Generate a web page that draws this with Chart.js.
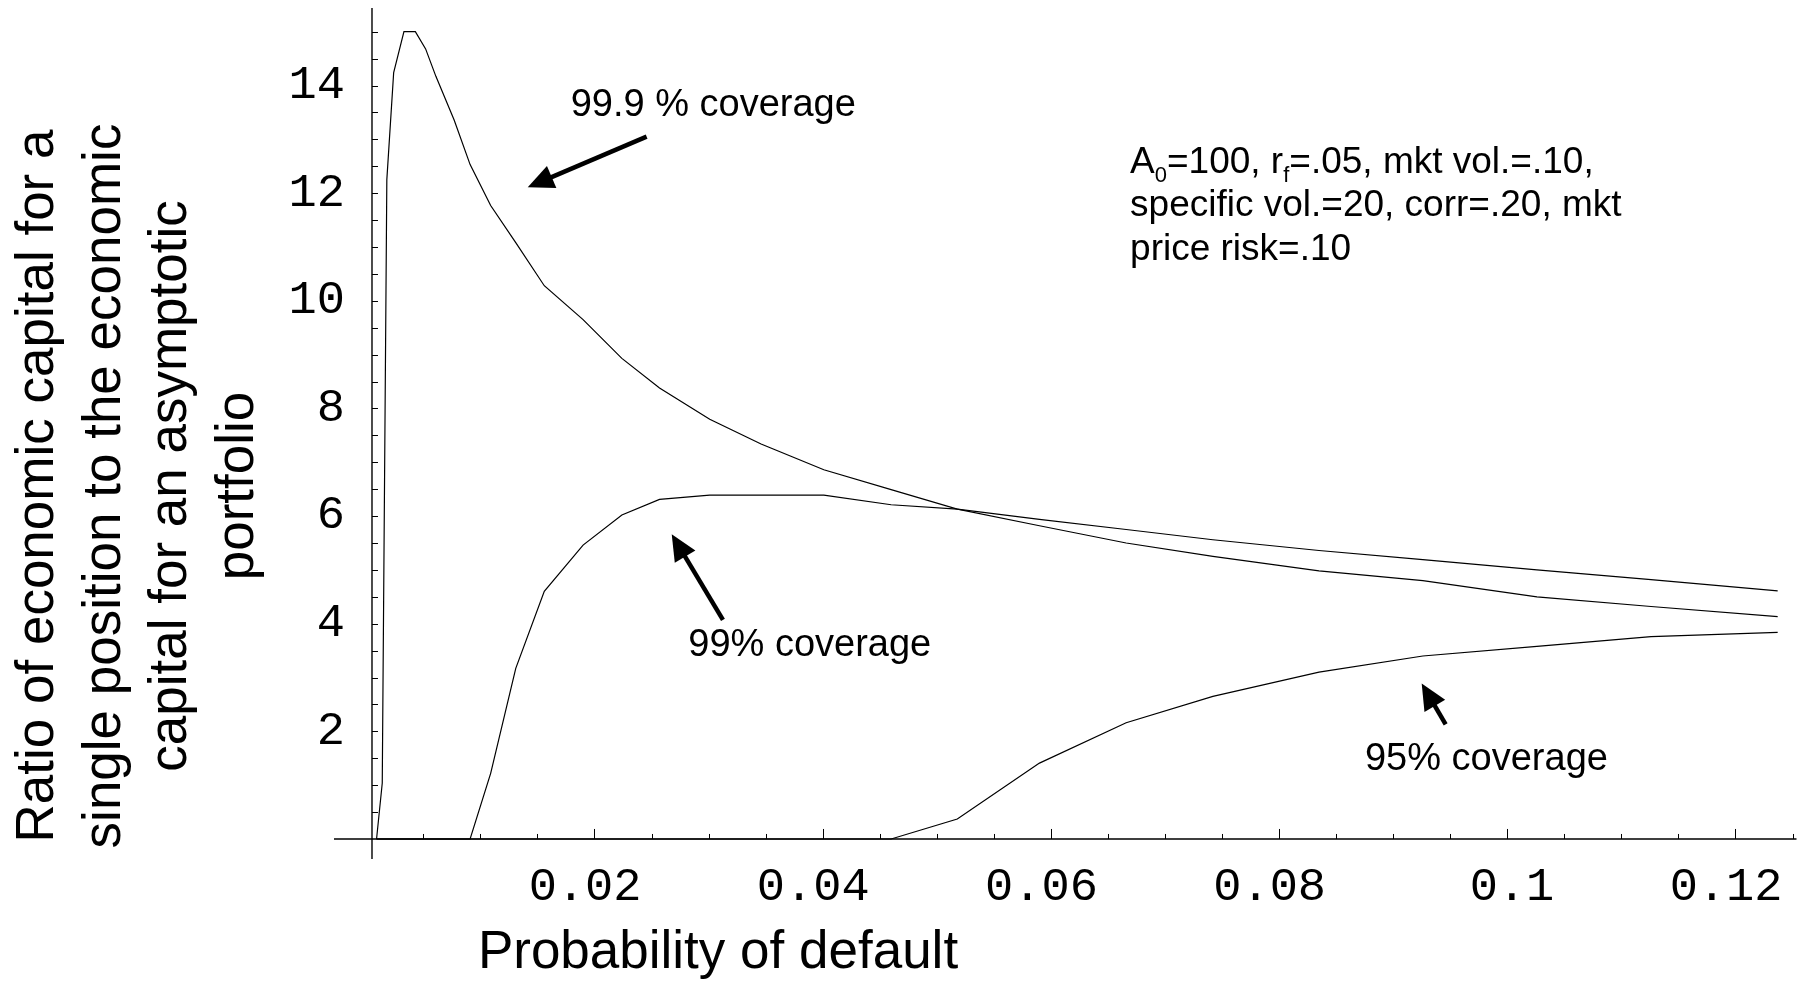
<!DOCTYPE html>
<html>
<head>
<meta charset="utf-8">
<title>Economic capital ratio vs probability of default</title>
<script src="https://cdn.jsdelivr.net/npm/chart.js@4/dist/chart.umd.min.js"></script>
<style>
  html, body { margin: 0; padding: 0; background: #fff; }
  canvas { display: block; }
</style>
</head>
<body>
<canvas id="chart" width="1812" height="985"></canvas>
<script>
// Probability-of-default grid shared by the three coverage curves
const pd = [0.0009, 0.0014, 0.0018, 0.0024, 0.0033, 0.0043, 0.0052, 0.0061, 0.0077, 0.0091,
            0.0109, 0.0131, 0.0156, 0.0190, 0.0224, 0.0257, 0.0301, 0.0346, 0.0401, 0.0460,
            0.0518, 0.0590, 0.0666, 0.0742, 0.0835, 0.0926, 0.1026, 0.1126, 0.1237];

// Ratio of single-position capital to asymptotic-portfolio capital
const ratio999 = [0, 1.04, 12.25, 14.24, 15.0, 15.0, 14.68, 14.17, 13.36, 12.53,
                  11.77, 11.08, 10.28, 9.65, 8.93, 8.38, 7.80, 7.34, 6.86, 6.49,
                  6.13, 5.82, 5.50, 5.25, 4.98, 4.80, 4.50, 4.32, 4.13];
const ratio99  = [0, 0, 0, 0, 0, 0, 0, 0, 0, 0,
                  1.22, 3.17, 4.60, 5.46, 6.02, 6.31, 6.39, 6.39, 6.39, 6.21,
                  6.13, 5.94, 5.75, 5.56, 5.36, 5.19, 5.00, 4.82, 4.61];
const ratio95  = [0, 0, 0, 0, 0, 0, 0, 0, 0, 0,
                  0, 0, 0, 0, 0, 0, 0, 0, 0, 0,
                  0.37, 1.41, 2.16, 2.65, 3.10, 3.40, 3.58, 3.76, 3.84];

// Labelled ticks
const xTickValues = [0.02, 0.04, 0.06, 0.08, 0.1, 0.12];
const xTickLabels = ['0.02', '0.04', '0.06', '0.08', '0.1', '0.12'];
const yTickValues = [2, 4, 6, 8, 10, 12, 14];
const yTickLabels = ['2', '4', '6', '8', '10', '12', '14'];

// Text
const xTitle = 'Probability of default';
const yTitleLines = ['Ratio of economic capital for a',
                     'single position to the economic',
                     'capital for an asymptotic',
                     'portfolio'];

// Where the vertical axis crosses the horizontal one (in PD units)
const yAxisAt = 0.0005;

// Callout texts and arrows, anchored in data coordinates
const callouts = [
  { text: '99.9 % coverage', at: [0.01791, 13.44] },
  { text: '99% coverage',    at: [0.02822, 3.40] },
  { text: '95% coverage',    at: [0.08753, 1.28] }
];
const arrows = [
  { from: [0.02457, 13.05], to: [0.01415, 12.11] },
  { from: [0.03126, 4.07],  to: [0.02677, 5.66] },
  { from: [0.0946, 2.13],   to: [0.0925, 2.89] }
];

// Parameter note; each run is [text, isSubscript]
const paramAnchor = [0.06694, 12.38];
const paramLines = [
  [['A', false], ['0', true], ['=100, r', false], ['f', true], ['=.05, mkt vol.=.10,', false]],
  [['specific vol.=20, corr=.20, mkt', false]],
  [['price risk=.10', false]]
];

const SANS = '"Liberation Sans", Arial, sans-serif';
const MONO = '"Liberation Mono", "Courier New", monospace';

function curve(label, values) {
  return {
    label,
    data: pd.map((x, i) => ({ x, y: values[i] })),
    borderColor: '#000',
    borderWidth: 1.2,
    pointRadius: 0,
    fill: false,
    tension: 0
  };
}

const isMajor = v => xTickValues.some(t => Math.abs(t - v) < 1e-9);

// Axes crossing inside the plot, with inward tick marks
const crossedAxes = {
  id: 'crossedAxes',
  afterDatasetsDraw(chart) {
    const { ctx, chartArea: a, scales: { x, y } } = chart;
    const ox = x.getPixelForValue(yAxisAt);
    const oy = y.getPixelForValue(0);
    ctx.save();
    ctx.strokeStyle = '#000';
    ctx.lineWidth = 1.4;
    ctx.beginPath();
    ctx.moveTo(a.left, oy); ctx.lineTo(a.right, oy);
    ctx.moveTo(ox, a.top);  ctx.lineTo(ox, a.bottom);
    ctx.stroke();

    ctx.lineWidth = 1;
    ctx.beginPath();
    x.ticks.forEach(t => {
      if (t.value <= yAxisAt) return;
      const px = Math.round(x.getPixelForValue(t.value)) + 0.5;
      ctx.moveTo(px, oy);
      ctx.lineTo(px, oy - (isMajor(t.value) ? 10 : 5));
    });
    y.ticks.forEach(t => {
      if (t.value <= 0) return;
      const py = Math.round(y.getPixelForValue(t.value)) + 0.5;
      ctx.moveTo(ox, py);
      ctx.lineTo(ox + 6, py);
    });
    ctx.stroke();

    ctx.fillStyle = '#000';
    ctx.font = '47px ' + MONO;
    ctx.textAlign = 'right';
    ctx.textBaseline = 'alphabetic';
    xTickValues.forEach((v, i) => {
      ctx.fillText(xTickLabels[i], x.getPixelForValue(v) + 47, oy + 61);
    });
    ctx.textBaseline = 'middle';
    yTickValues.forEach((v, i) => {
      ctx.fillText(yTickLabels[i], ox - 27, y.getPixelForValue(v));
    });
    ctx.restore();
  }
};

function drawArrow(ctx, x1, y1, x2, y2) {
  const ang = Math.atan2(y2 - y1, x2 - x1);
  const headLen = 26, headHalf = 12;
  const bx = x2 - headLen * Math.cos(ang), by = y2 - headLen * Math.sin(ang);
  ctx.lineWidth = 4.5;
  ctx.beginPath();
  ctx.moveTo(x1, y1);
  ctx.lineTo(bx + 2 * Math.cos(ang), by + 2 * Math.sin(ang));
  ctx.stroke();
  ctx.beginPath();
  ctx.moveTo(x2, y2);
  ctx.lineTo(bx + headHalf * Math.sin(ang), by - headHalf * Math.cos(ang));
  ctx.lineTo(bx - headHalf * Math.sin(ang), by + headHalf * Math.cos(ang));
  ctx.closePath();
  ctx.fill();
}

// Axis titles, callouts and parameter note
const notes = {
  id: 'notes',
  afterDraw(chart) {
    const { ctx, scales: { x, y } } = chart;
    ctx.save();
    ctx.fillStyle = '#000';
    ctx.strokeStyle = '#000';

    ctx.font = '53px ' + SANS;
    ctx.textAlign = 'center';
    ctx.textBaseline = 'alphabetic';
    ctx.fillText(xTitle, 718, 968);

    ctx.save();
    ctx.translate(0, 486);
    ctx.rotate(-Math.PI / 2);
    yTitleLines.forEach((s, i) => ctx.fillText(s, 0, 53 + i * 66.7));
    ctx.restore();

    ctx.font = '38px ' + SANS;
    ctx.textAlign = 'left';
    callouts.forEach(c => {
      ctx.fillText(c.text, x.getPixelForValue(c.at[0]), y.getPixelForValue(c.at[1]));
    });

    ctx.lineCap = 'butt';
    arrows.forEach(a => {
      drawArrow(ctx,
        x.getPixelForValue(a.from[0]), y.getPixelForValue(a.from[1]),
        x.getPixelForValue(a.to[0]), y.getPixelForValue(a.to[1]));
    });

    const left = x.getPixelForValue(paramAnchor[0]);
    const top = y.getPixelForValue(paramAnchor[1]);
    paramLines.forEach((runs, i) => {
      let cx = left;
      const base = top + i * 43.5;
      runs.forEach(([text, sub]) => {
        ctx.font = (sub ? '22px ' : '37px ') + SANS;
        ctx.fillText(text, cx, base + (sub ? 9 : 0));
        cx += ctx.measureText(text).width;
      });
    });
    ctx.restore();
  }
};

new Chart(document.getElementById('chart'), {
  type: 'line',
  data: {
    datasets: [
      curve('99.9% coverage', ratio999),
      curve('99% coverage', ratio99),
      curve('95% coverage', ratio95)
    ]
  },
  options: {
    responsive: false,
    animation: false,
    devicePixelRatio: 1,
    layout: { padding: { left: 334, right: 15.5, top: 8, bottom: 126 } },
    plugins: { legend: { display: false }, tooltip: { enabled: false } },
    scales: {
      x: { type: 'linear', min: -0.00283, max: 0.12535, display: false,
           ticks: { stepSize: 0.005, includeBounds: false } },
      y: { type: 'linear', min: -0.372, max: 15.44, display: false,
           ticks: { stepSize: 0.5, includeBounds: false } }
    }
  },
  plugins: [crossedAxes, notes]
});
</script>
</body>
</html>
